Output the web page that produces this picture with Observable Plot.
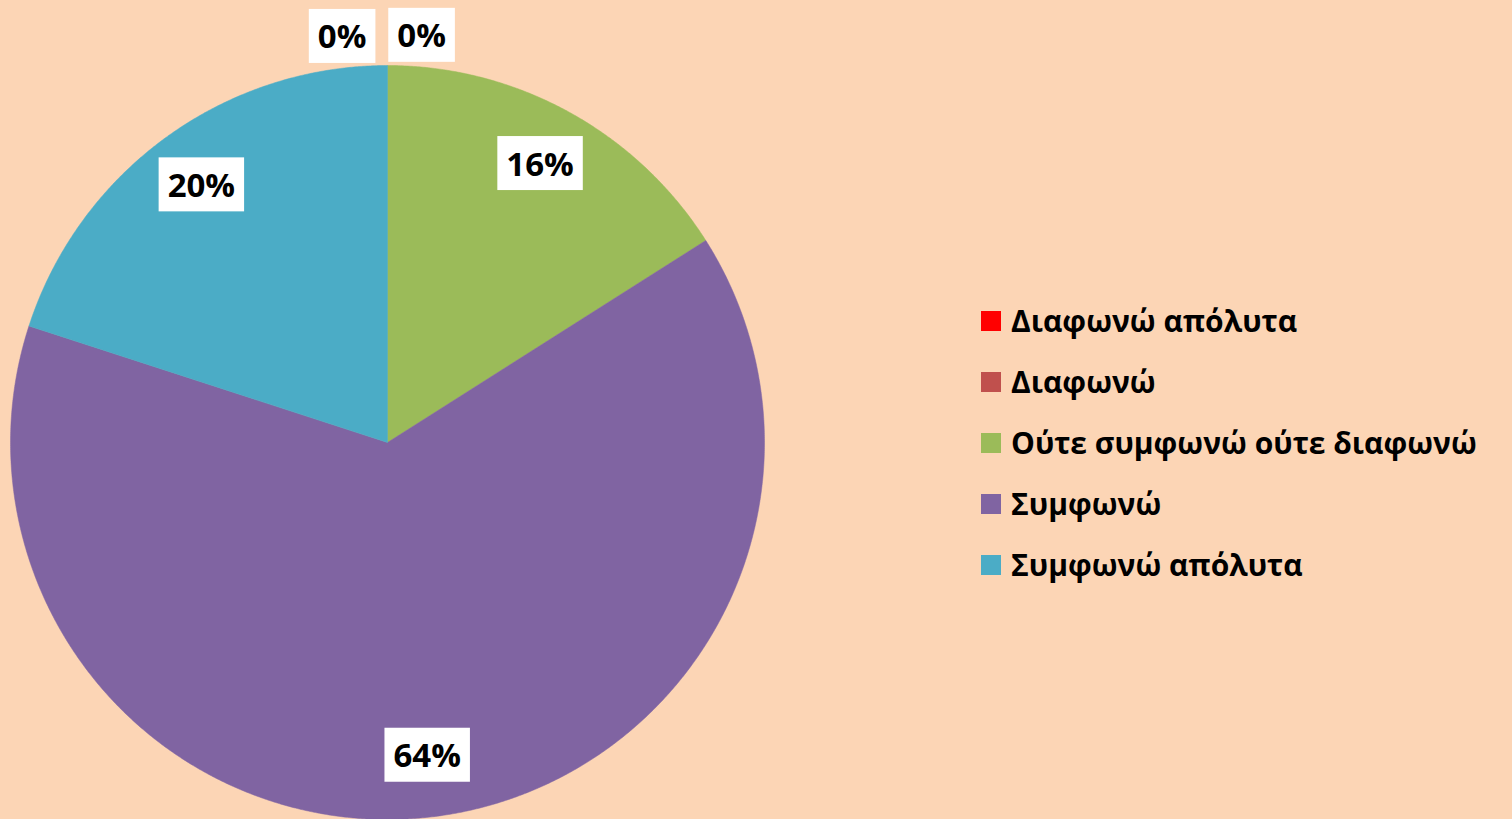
<!DOCTYPE html>
<html>
<head>
<meta charset="utf-8">
<script src="https://cdn.jsdelivr.net/npm/d3@7"></script>
<script src="https://cdn.jsdelivr.net/npm/@observablehq/plot@0.6"></script>
<style>
  html, body { margin: 0; padding: 0; background: #FCD5B5; }
  #wrap { position: relative; width: 1512px; height: 819px; overflow: hidden; background: #FCD5B5; }
  #legend { position: absolute; left: 981px; top: 290px; font-family: "Open Sans", "Noto Sans", sans-serif; font-weight: 700; font-size: 30px; color: #000; }
  .item { display: flex; align-items: center; height: 61px; white-space: nowrap; }
  .sw { width: 20px; height: 20px; margin-right: 10px; flex: none; }
</style>
</head>
<body>
<div id="wrap"><div id="legend"></div></div>
<script>
// ---- data ----
const categories = ["Διαφωνώ απόλυτα", "Διαφωνώ", "Ούτε συμφωνώ ούτε διαφωνώ", "Συμφωνώ", "Συμφωνώ απόλυτα"];
const shares = [0, 0, 16, 64, 20];
const colors = ["#FF0000", "#C0504D", "#9BBB59", "#8064A2", "#4BACC6"];

// ---- layout ----
const W = 1512, H = 819;
const cx = 387, cy = 442, R = 377;

const total = d3.sum(shares);
const pie = d3.pie().sort(null).value(d => d)(shares);

// slice polygons in unit coordinates (angle 0 at top, clockwise)
const slices = pie.map((p, i) => {
  const pts = [{x: 0, y: 0}];
  const steps = Math.max(2, Math.ceil((p.endAngle - p.startAngle) / 0.005));
  for (let k = 0; k <= steps; k++) {
    const a = p.startAngle + (p.endAngle - p.startAngle) * k / steps;
    pts.push({x: Math.sin(a), y: Math.cos(a)});
  }
  pts.push({x: 0, y: 0});
  return {i, pts, value: p.value};
}).filter(s => s.value > 0);

// label positions
const zeroIdx = pie.map((p, i) => i).filter(i => pie[i].value === 0);
const labels = pie.map((p, i) => {
  let a, r;
  if (p.value === 0) {
    const k = zeroIdx.indexOf(i);
    a = p.startAngle + (k - (zeroIdx.length - 1) / 2) * (11.2 * Math.PI / 180) - 0.8 * Math.PI / 180;
    r = 1.08;
  } else {
    a = (p.startAngle + p.endAngle) / 2;
    r = 0.84;
  }
  return {x: r * Math.sin(a), y: r * Math.cos(a), text: Math.round(p.value / total * 100) + "%"};
});

const chart = Plot.plot({
  width: W,
  height: H,
  margin: 0,
  style: {background: "transparent", overflow: "visible"},
  x: {domain: [-1, 1], range: [cx - R, cx + R], axis: null},
  y: {domain: [-1, 1], range: [cy + R, cy - R], axis: null},
  marks: [
    ...slices.map(s => Plot.line(s.pts, {x: "x", y: "y", fill: colors[s.i], stroke: colors[s.i], strokeWidth: 0.5, curve: "linear"})),
    Plot.text(labels, {x: "x", y: "y", text: "text", fill: "#000", fontSize: 33, fontWeight: 700,
      fontFamily: "Open Sans, Noto Sans, sans-serif", className: "pielabel"})
  ]
});
chart.style.position = "absolute";
chart.style.left = "0px";
chart.style.top = "0px";
const wrap = document.getElementById("wrap");
wrap.insertBefore(chart, wrap.firstChild);

// white boxes behind labels
d3.select(chart).selectAll("g.pielabel text").each(function () {
  const b = this.getBBox();
  const padX = 9, h = 54;
  const rect = d3.select(this.parentNode).insert("rect", () => this)
    .attr("x", b.x - padX).attr("y", b.y + b.height / 2 - h / 2)
    .attr("width", b.width + 2 * padX).attr("height", h)
    .attr("fill", "#FFFFFF");
  const t = this.getAttribute("transform");
  if (t) rect.attr("transform", t);
});

// legend
const legend = d3.select("#legend");
categories.forEach((c, i) => {
  const row = legend.append("div").attr("class", "item");
  row.append("div").attr("class", "sw").style("background", colors[i]);
  row.append("span").text(c);
});
</script>
</body>
</html>
